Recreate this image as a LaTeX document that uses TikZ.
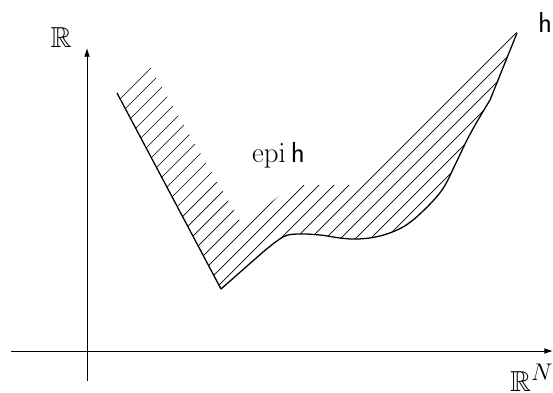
\documentclass[tikz,border=0pt]{standalone}
\usepackage{amsmath}
\usepackage{amssymb}
\usepackage{tikz}
\usetikzlibrary{arrows.meta}
\tikzset{
	axis/.style ={-{Latex[length=7.5pt, width=5pt]}, line width=0.8pt},
	graph/.style={line width=1.1pt, line join=round},
	hatch/.style={line width=0.6pt},
	lbl/.style  ={inner sep=0pt, font=\fontsize{24.88}{30}\selectfont},
}

\begin{document}
\begin{tikzpicture}[x=0.86pt, y=-0.86pt]
	\useasboundingbox (0,0) rectangle (553,392);
	% axes
	\coordinate (xs) at (11,351);
	\coordinate (xe) at (553,351);
	\coordinate (ys) at (87,381);
	\coordinate (ye) at (87,48);
	\draw[axis] (xs) -- (xe);
	\draw[axis] (ys) -- (ye);
	\node[lbl] (rl) at (61,38) {$\mathbb{R}$};
	\node[lbl, anchor=base west] (rn) at (510,391) {$\mathbb{R}^N$};
	% hatching of the epigraph
	\begin{scope}
		\clip (117,93) -- (221,289) -- plot[smooth, tension=0.6] coordinates {(263,252) (283,237) (298,234) (320,235) (340,238) (358,239) (380,236) (403,227) (422,212) (442,190) (455,165) (467,140) (478,120) (490,100)} -- (517,33)
			-- (513,28) -- (356,185) -- (292,185) -- (243,226) -- (147,62) -- cycle;
		\foreach \c in {219,234,...,654}
			\draw[hatch] ({\c-300},300) -- (\c,0);
	\end{scope}
	% the function h
	\draw[graph] (117,93) -- (221,289) -- plot[smooth, tension=0.6] coordinates {(263,252) (283,237) (298,234) (320,235) (340,238) (358,239) (380,236) (403,227) (422,212) (442,190) (455,165) (467,140) (478,120) (490,100)} -- (517,33);
	\node[lbl, anchor=base west] (hl) at (538,33) {$\mathsf{h}$};
	\node[lbl, anchor=base west] (epi) at (252,162) {$\operatorname{epi}\mathsf{h}$};
\end{tikzpicture}
\end{document}
